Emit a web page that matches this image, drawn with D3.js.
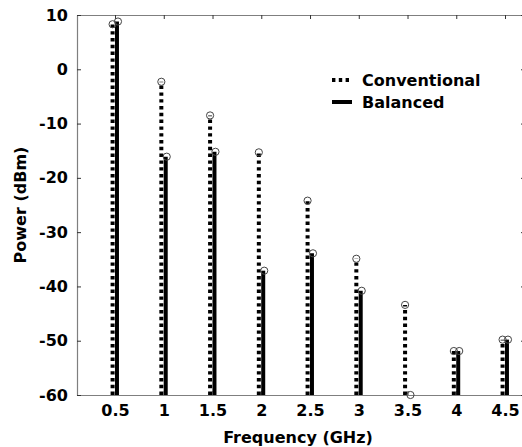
<!DOCTYPE html>
<html lang="en">
<head>
<meta charset="UTF-8">
<title>Power vs Frequency</title>
<style>
  html, body { margin: 0; padding: 0; background: #fff; }
  #main { width: 522px; height: 447px; overflow: hidden; }
  text { font-family: "DejaVu Sans", Arial, sans-serif; font-weight: bold; fill: #000; }
</style>
</head>
<body>
<div id="main"></div>
<script src="https://d3js.org/d3.v7.min.js"></script>
<script>
// data
const freqs = [0.5, 1, 1.5, 2, 2.5, 3, 3.5, 4, 4.5];
const conventional = [8.3, -2.3, -8.5, -15.3, -24.2, -34.9, -43.4, -51.9, -49.8];
const balanced = [8.8, -16.1, -15.2, -37.1, -33.9, -40.8, -60, -51.9, -49.8];
const yTicks = [10, 0, -10, -20, -30, -40, -50, -60];
const xTicks = [0.5, 1, 1.5, 2, 2.5, 3, 3.5, 4, 4.5];

const width = 522, height = 447;
const svg = d3.select('#main').append('svg')
  .attr('width', width)
  .attr('height', height);

// plot box (right edge sits just outside the picture, like the original)
const m = { left: 77, right: 525, top: 15, bottom: 395 };

const x = d3.scaleLinear().domain([0.11, 4.705]).range([m.left, m.right]);
const y = d3.scaleLinear().domain([-60, 10]).range([m.bottom, m.top]);

const axisColor = '#7f7f7f';
const plain = d => String(d);   // keep ascii hyphen for negatives

// axes
const gx = svg.append('g').attr('transform', `translate(0,${m.bottom})`)
  .call(d3.axisBottom(x).tickValues(xTicks).tickFormat(plain).tickSizeInner(-4).tickSizeOuter(0).tickPadding(10));
const gxTop = svg.append('g').attr('transform', `translate(0,${m.top})`)
  .call(d3.axisTop(x).tickValues(xTicks).tickFormat('').tickSizeInner(-4).tickSizeOuter(0));
const gy = svg.append('g').attr('transform', `translate(${m.left},0)`)
  .call(d3.axisLeft(y).tickValues(yTicks).tickFormat(plain).tickSizeInner(-4).tickSizeOuter(0).tickPadding(9));
const gyRight = svg.append('g').attr('transform', `translate(${m.right},0)`)
  .call(d3.axisRight(y).tickValues(yTicks).tickFormat('').tickSizeInner(-4).tickSizeOuter(0));

[gx, gxTop, gy, gyRight].forEach(g => {
  g.select('.domain').attr('stroke', axisColor).attr('stroke-width', 1.2);
  g.selectAll('.tick line').attr('stroke', '#333').attr('stroke-width', 1);
  g.selectAll('.tick text').style('font-size', '16px').attr('fill', '#000');
});

// stems
const offConv = -0.025, offBal = 0.02;
const stemWidth = 4;
const stems = svg.append('g');

stems.selectAll('line.conv').data(freqs).join('line')
  .attr('class', 'conv')
  .attr('x1', d => x(d + offConv)).attr('x2', d => x(d + offConv))
  .attr('y1', y(-60)).attr('y2', (d, i) => y(conventional[i]))
  .attr('stroke', '#000').attr('stroke-width', stemWidth)
  .attr('stroke-dasharray', '3.4,3.4');

stems.selectAll('line.bal').data(freqs).join('line')
  .attr('class', 'bal')
  .attr('x1', d => x(d + offBal)).attr('x2', d => x(d + offBal))
  .attr('y1', y(-60)).attr('y2', (d, i) => y(balanced[i]))
  .attr('stroke', '#000').attr('stroke-width', stemWidth);

// open circle markers
stems.selectAll('circle.conv').data(freqs).join('circle')
  .attr('class', 'conv')
  .attr('cx', d => x(d + offConv)).attr('cy', (d, i) => y(conventional[i]))
  .attr('r', 3.6).attr('fill', 'none').attr('stroke', '#444').attr('stroke-width', 1);

stems.selectAll('circle.bal').data(freqs).join('circle')
  .attr('class', 'bal')
  .attr('cx', d => x(d + offBal) + 1).attr('cy', (d, i) => y(balanced[i]))
  .attr('r', 3.6).attr('fill', 'none').attr('stroke', '#444').attr('stroke-width', 1);

// axis titles
svg.append('text')
  .attr('x', 298).attr('y', 443)
  .attr('text-anchor', 'middle')
  .style('font-size', '16px')
  .text('Frequency (GHz)');

svg.append('text')
  .attr('transform', `translate(26,${(m.top + m.bottom) / 2}) rotate(-90)`)
  .attr('text-anchor', 'middle')
  .style('font-size', '16px')
  .text('Power (dBm)');

// legend
const legend = svg.append('g').attr('transform', 'translate(332,80)');
const legendItems = [
  { name: 'Conventional', dash: '3.4,3.4' },
  { name: 'Balanced', dash: null }
];
legendItems.forEach((it, i) => {
  const row = legend.append('g').attr('transform', `translate(0,${i * 22})`);
  row.append('line')
    .attr('x1', 0).attr('x2', 20).attr('y1', 0).attr('y2', 0)
    .attr('stroke', '#000').attr('stroke-width', stemWidth)
    .attr('stroke-dasharray', it.dash);
  row.append('text')
    .attr('x', 30).attr('y', 6)
    .style('font-size', '16px')
    .text(it.name);
});
</script>
</body>
</html>
